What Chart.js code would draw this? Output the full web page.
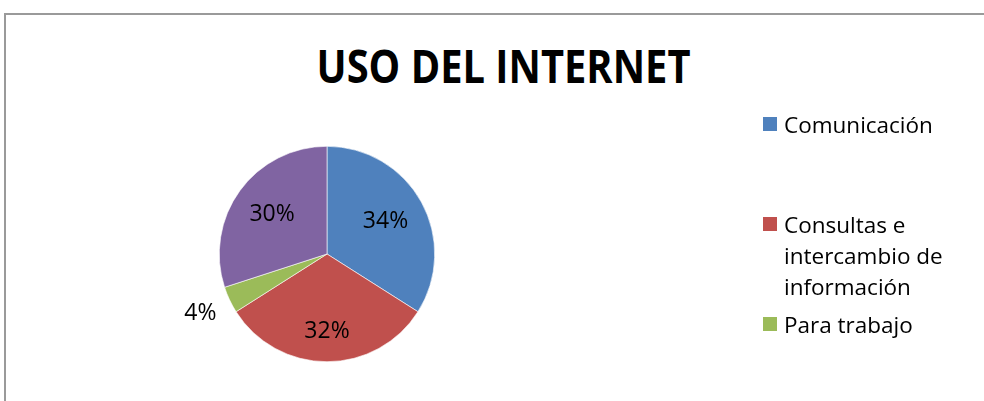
<!DOCTYPE html>
<html lang="es">
<head>
<meta charset="utf-8">
<title>Uso del Internet</title>
<script src="https://cdn.jsdelivr.net/npm/chart.js@4.4.1/dist/chart.umd.min.js"></script>
<style>
    html, body { margin: 0; padding: 0; background: #fff; }
    body { width: 984px; height: 401px; position: relative; overflow: hidden; font-family: "Open Sans", sans-serif; }
    #frame {
        position: absolute; left: 4px; top: 13px; width: 1200px; height: 600px;
        border-top: 2px solid #9a9a9a; border-left: 2px solid #9a9a9a;
    }
    #title {
        position: absolute; left: 0; top: 35px; width: 1006px; text-align: center;
        font-weight: 700; font-size: 47px; line-height: 60px; color: #000;
        white-space: nowrap;
    }
    #title span { display: inline-block; transform-origin: center; }
    #chart-box { position: absolute; left: 0; top: 0; width: 984px; height: 401px; }
    #legend { position: absolute; left: 763px; top: 0; width: 220px; font-size: 22.5px; color: #000; }
    .item { position: absolute; left: 0; display: flex; align-items: flex-start; line-height: 31px; }
    .item .box { width: 14px; height: 14px; margin-top: 8px; margin-right: 7px; flex: none; }
    .item .text { width: 185px; }
</style>
</head>
<body>
<div id="frame"></div>
<div id="title"><span>USO DEL INTERNET</span></div>
<div id="chart-box"><canvas id="chart"></canvas></div>
<div id="legend"></div>
<script>
// Valeurs (en %)
const categories = ['Comunicación', 'Consultas e intercambio de información', 'Para trabajo', 'Otros'];
const values = [34, 32, 4, 30];
const colors = ['#4F81BD', '#C0504D', '#9BBB59', '#8064A2'];
// seule la légende des trois premières catégories est visible (la 4e est coupée)
const legendCount = 3;

// position radiale des étiquettes, en fraction du rayon
const LABEL_RADIUS = [0.62, 0.72, 1.3, 0.63];
const LEGEND_TOPS = [109, 209, 309];

// ── Étiquettes de pourcentage ─────────────
const pctLabels = {
    id: 'pctLabels',
    afterDatasetsDraw(chart) {
        const ctx = chart.ctx;
        const meta = chart.getDatasetMeta(0);
        const total = values.reduce((a, b) => a + b, 0);
        ctx.save();
        ctx.font = '23px "Open Sans"';
        ctx.fillStyle = '#000';
        ctx.textAlign = 'center';
        ctx.textBaseline = 'middle';
        meta.data.forEach((arc, i) => {
            const p = arc.getProps(['x', 'y', 'startAngle', 'endAngle', 'outerRadius'], true);
            const mid = (p.startAngle + p.endAngle) / 2;
            const r = p.outerRadius * LABEL_RADIUS[i];
            const pct = Math.round(values[i] / total * 100) + '%';
            ctx.fillText(pct, p.x + Math.cos(mid) * r, p.y + Math.sin(mid) * r);
        });
        ctx.restore();
    },
};

new Chart(document.getElementById('chart'), {
    type: 'pie',
    data: {
        labels: categories,
        datasets: [{
            data: values,
            backgroundColor: colors,
            borderColor: '#ffffff',
            borderWidth: 0.6,
        }],
    },
    options: {
        responsive: true,
        maintainAspectRatio: false,
        animation: false,
        layout: { padding: { left: 219, right: 549, top: 146, bottom: 39 } },
        plugins: { legend: { display: false }, tooltip: { enabled: false } },
    },
    plugins: [pctLabels],
});

// ── Légende HTML ─────────────
const legend = document.getElementById('legend');
for (let i = 0; i < legendCount; i++) {
    const item = document.createElement('div');
    item.className = 'item';
    item.style.top = LEGEND_TOPS[i] + 'px';
    item.innerHTML = `<div class="box" style="background:${colors[i]}"></div><div class="text">${categories[i]}</div>`;
    legend.appendChild(item);
}

// ajuste la largeur du titre (police Calibri absente)
const span = document.querySelector('#title span');
span.style.transform = `scaleX(${374 / span.getBoundingClientRect().width})`;
</script>
</body>
</html>
